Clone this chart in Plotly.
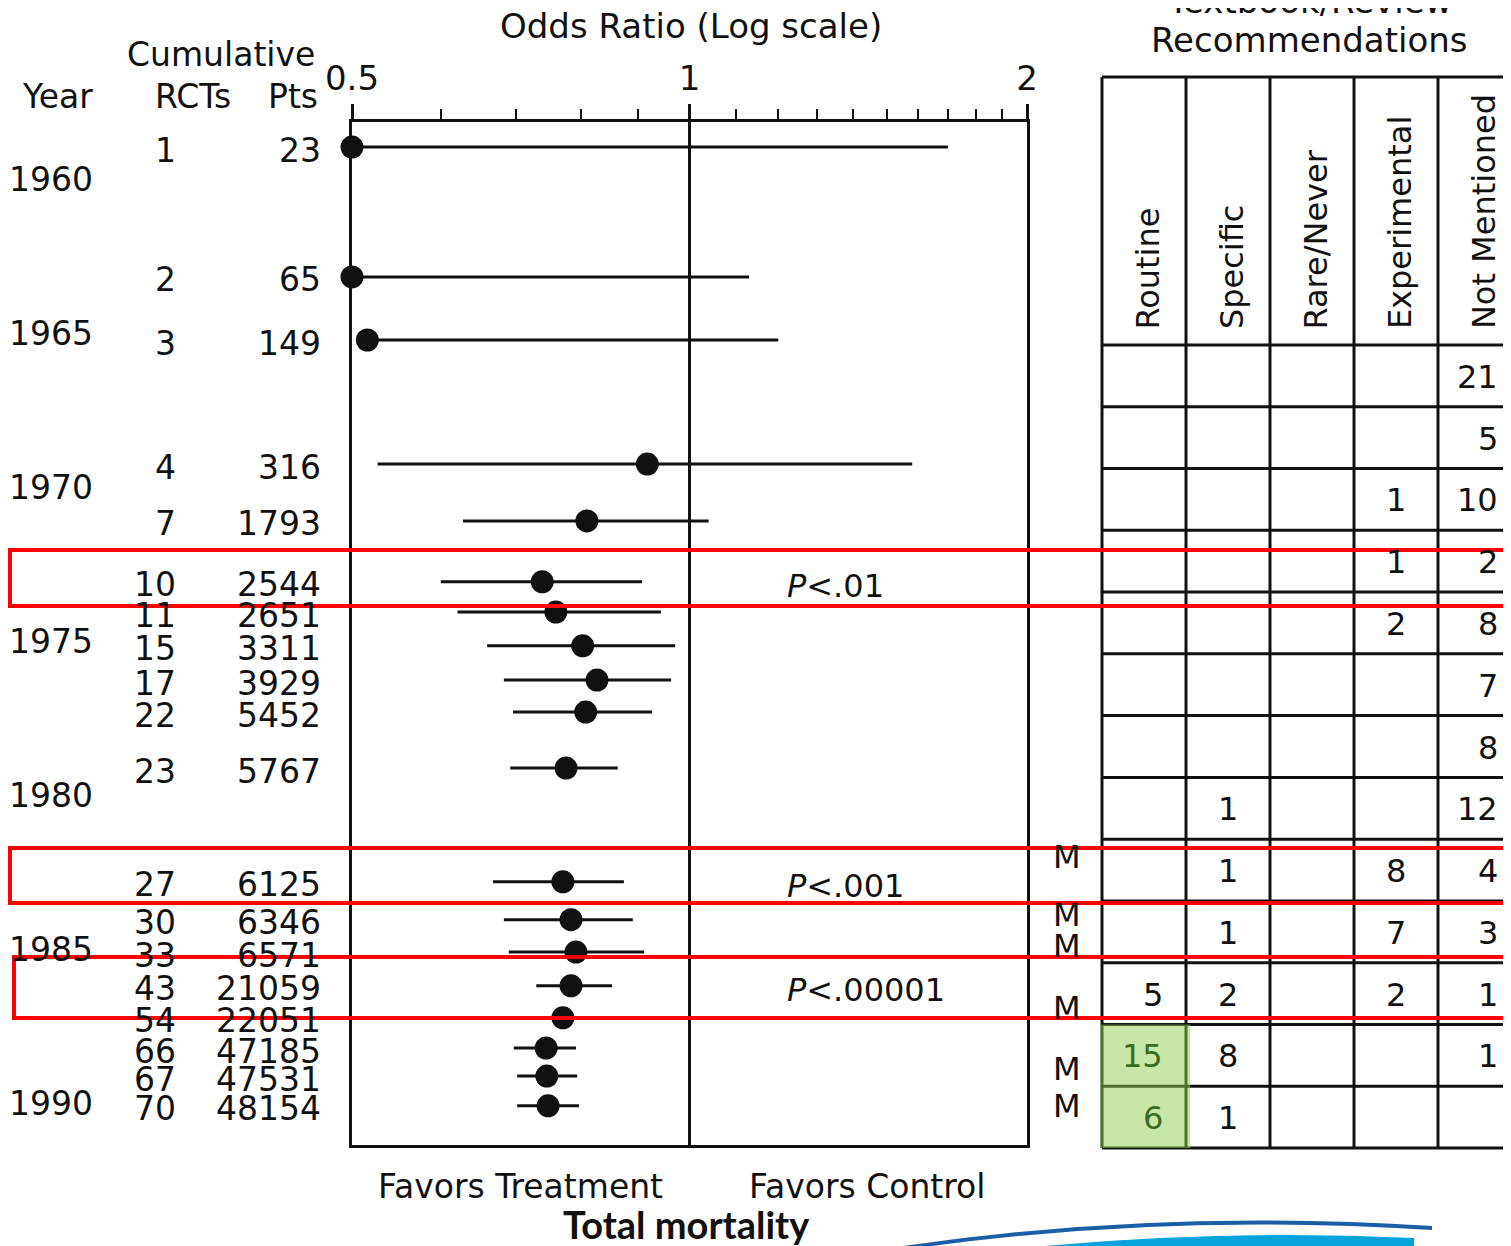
import math
import plotly.graph_objects as go

# the page body adds an 8px margin; the figure is sized and offset to fill the window
W0, H0 = 1511, 1246
OFF = 8
W, H = W0 - OFF, H0 - OFF

# ---------------- data ----------------
year_ticks = [1960, 1965, 1970, 1975, 1980, 1985, 1990]
row_year = [1958.93, 1963.15, 1965.20, 1969.23, 1971.08, 1973.06, 1974.04, 1975.14,
            1976.25, 1977.29, 1979.11, 1982.81, 1984.04, 1985.09, 1986.19, 1987.23,
            1988.21, 1989.12, 1990.09]
cum_rcts = [1, 2, 3, 4, 7, 10, 11, 15, 17, 22, 23, 27, 30, 33, 43, 54, 66, 67, 70]
cum_pts = [23, 65, 149, 316, 1793, 2544, 2651, 3311, 3929, 5452, 5767, 6125, 6346,
           6571, 21059, 22051, 47185, 47531, 48154]
odds_ratio = [0.50, 0.50, 0.516, 0.917, 0.81, 0.739, 0.760, 0.803, 0.827, 0.808, 0.776,
              0.771, 0.784, 0.792, 0.784, 0.771, 0.745, 0.746, 0.748]
ci_low = [0.50, 0.50, 0.507, 0.527, 0.628, 0.60, 0.621, 0.66, 0.683, 0.696, 0.692,
          0.668, 0.683, 0.690, 0.730, 0.719, 0.697, 0.702, 0.702]
ci_high = [1.70, 1.13, 1.20, 1.58, 1.04, 0.907, 0.943, 0.971, 0.963, 0.926, 0.863,
           0.874, 0.890, 0.911, 0.853, 0.837, 0.792, 0.794, 0.797]
p_labels = ["<i>P</i>&lt;.01", "<i>P</i>&lt;.001", "<i>P</i>&lt;.00001"]
p_at_rcts = [10, 27, 43]
meta_years = [1982.0, 1983.9, 1984.9, 1986.9, 1988.9, 1990.1]

rec_columns = ["Routine", "Specific", "Rare/Never", "Experimental", "Not Mentioned"]
routine = [None] * 10 + [5, 15, 6]
specific = [None] * 7 + [1, 1, 1, 2, 8, 1]
rare_never = [None] * 13
experimental = [None, None, 1, 1, 2, None, None, None, 8, 7, 2, None, None]
not_mentioned = [21, 5, 10, 2, 8, 7, 8, 12, 4, 3, 1, 1, None]
highlight_rows = [11, 12]

x_major = [0.5, 1, 2]
x_major_text = ["0.5", "1", "2"]
x_minor = [0.6, 0.7, 0.8, 0.9, 1.1, 1.2, 1.3, 1.4, 1.5, 1.6, 1.7, 1.8, 1.9]

# ---------------- layout helpers (window pixels -> paper) ----------------
def fx(p):
    return (p - OFF) / W

def fy(p):
    return 1 - (p - OFF) / H

FONT = "DejaVu Sans"
BLACK = "#111111"

# main plot geometry (window pixels)
PL, PR, PT, PB = 352, 1027, 122, 1145
Y_REF_PX, PX_PER_YEAR = 180, 30.77
y_bottom = 1960 + (PB - Y_REF_PX) / PX_PER_YEAR
y_top = 1960 + (PT - Y_REF_PX) / PX_PER_YEAR

# table geometry (window pixels)
T_LEFT, COL_W, T_TOP, HDR_BOT, T_BOT = 1102, 84, 77, 345, 1148
N_ROWS = 13
ROW_H = (T_BOT - HDR_BOT) / N_ROWS
HDR = (HDR_BOT - T_TOP) / ROW_H
PAD = 6

fig = go.Figure()

# CI lines
xs, ys = [], []
for lo, hi, yr in zip(ci_low, ci_high, row_year):
    xs += [lo, hi, None]
    ys += [yr, yr, None]
fig.add_trace(go.Scatter(x=xs, y=ys, mode="lines", line=dict(color=BLACK, width=3),
                         hoverinfo="skip", showlegend=False, xaxis="x", yaxis="y"))
# point estimates
fig.add_trace(go.Scatter(x=odds_ratio, y=row_year, mode="markers",
                         marker=dict(color=BLACK, size=23), cliponaxis=False,
                         showlegend=False, xaxis="x", yaxis="y"))

annotations = []

def ann(text, x, y, xref="paper", yref="paper", size=33, xanchor="center",
        yanchor="middle", color=BLACK, family=FONT, **kw):
    d = dict(text=text, x=x, y=y, xref=xref, yref=yref, showarrow=False,
             xanchor=xanchor, yanchor=yanchor,
             font=dict(family=family, size=size, color=color))
    d.update(kw)
    annotations.append(d)

# headers
ann("Odds Ratio (Log scale)", fx(691), fy(26), size=34)
ann("Year", fx(95), fy(96), xanchor="right")
ann("Cumulative", fx(221), fy(54))
ann("RCTs", fx(233), fy(96), xanchor="right")
ann("Pts", fx(320), fy(96), xanchor="right")

# year labels
for yr in year_ticks:
    ann(str(yr), fx(95), yr, yref="y", xanchor="right")

# cumulative columns
for yr, n, p in zip(row_year, cum_rcts, cum_pts):
    ann(str(n), fx(178), yr, yref="y", xanchor="right", yshift=-3)
    ann(str(p), fx(323), yr, yref="y", xanchor="right", yshift=-3)

# P values
for lab, r in zip(p_labels, p_at_rcts):
    yr = row_year[cum_rcts.index(r)]
    ann(lab, fx(785), yr, yref="y", xanchor="left", size=32, yshift=-4)

# meta-analysis markers
for my in meta_years:
    ann("M", fx(1067), my, yref="y", size=32)

# bottom labels
ann("Favors Treatment", fx(520), fy(1186), size=33)
ann("Favors Control", fx(867), fy(1186), size=33)
ann("<b>Total mortality</b>", fx(686), fy(1224), size=38, family="Lato")

# table titles
ann("Textbook/Review", fx(1309), fy(1), size=34)
ann("Recommendations", fx(1309), fy(40), size=34)

# table column headers (rotated)
for j, name in enumerate(rec_columns):
    ann(name, j + 0.5 + 0.05, -0.22, xref="x2", yref="y2", textangle=-90,
        yanchor="bottom", size=32)

# table cells
col_data = [routine, specific, rare_never, experimental, not_mentioned]
col_anchor = [(0.75, "right"), (1.5, "center"), (2.5, "center"), (3.5, "center"),
              (4.74, "right")]
for j, col in enumerate(col_data):
    xa, anc = col_anchor[j]
    for i, v in enumerate(col):
        if v is None:
            continue
        color = "#3f6b1f" if (j == 0 and i in highlight_rows) else BLACK
        ann(str(v), xa, i + 0.5, xref="x2", yref="y2", xanchor=anc, size=32,
            color=color, yshift=-1)

shapes = []
# reference line at OR = 1
shapes.append(dict(type="line", xref="x", yref="paper", x0=1, x1=1,
                   y0=fy(PB), y1=fy(PT), line=dict(color=BLACK, width=3)))

# table grid
for j in range(0, 5):
    shapes.append(dict(type="line", xref="x2", yref="y2", x0=j, x1=j, y0=-HDR, y1=N_ROWS,
                       line=dict(color=BLACK, width=3), layer="above"))
for i in range(0, N_ROWS + 1):
    shapes.append(dict(type="line", xref="x2", yref="y2", x0=0, x1=5.2, y0=i, y1=i,
                       line=dict(color=BLACK, width=3), layer="above"))
shapes.append(dict(type="line", xref="x2", yref="y2", x0=0, x1=5.2, y0=-HDR, y1=-HDR,
                   line=dict(color=BLACK, width=3), layer="above"))
# green highlight
shapes.append(dict(type="rect", xref="x2", yref="y2", x0=-0.02, x1=1.05,
                   y0=min(highlight_rows), y1=max(highlight_rows) + 1,
                   fillcolor="rgba(146,208,80,0.5)", line=dict(width=0), layer="above"))

# red highlight boxes
for (x0, t, b) in [(10, 550, 606), (10, 848, 903), (14, 957, 1018)]:
    shapes.append(dict(type="rect", xref="paper", yref="paper", x0=fx(x0), x1=fx(1530),
                       y0=fy(b), y1=fy(t), line=dict(color="#ff0000", width=4),
                       fillcolor="rgba(0,0,0,0)", layer="above"))

# decorative swoosh (bottom right)
def P(x, y):
    return f"{fx(x):.5f},{fy(y):.5f}"

shapes.append(dict(type="path", xref="paper", yref="paper",
                   path=f"M{P(985,1252)} Q{P(1200,1228)} {P(1414,1238)} L{P(1414,1252)} Z",
                   fillcolor="#06a3dd", line=dict(width=0), layer="above"))
shapes.append(dict(type="path", xref="paper", yref="paper",
                   path=f"M{P(890,1250)} Q{P(1150,1210)} {P(1432,1228)}",
                   line=dict(color="#1b5ea6", width=4), layer="above"))
shapes.append(dict(type="path", xref="paper", yref="paper",
                   path=f"M{P(1502,1252)} Q{P(1506,1241)} {P(1514,1238)} L{P(1514,1252)} Z",
                   fillcolor="#06a3dd", line=dict(width=0), layer="above"))

fig.update_layout(
    width=W, height=H,
    margin=dict(l=0, r=0, t=0, b=0, pad=0, autoexpand=False),
    paper_bgcolor="white", plot_bgcolor="rgba(0,0,0,0)",
    showlegend=False,
    xaxis=dict(type="log", range=[math.log10(0.5), math.log10(2)],
               domain=[fx(PL), fx(PR)], side="top", anchor="y", automargin=False,
               tickmode="array", tickvals=x_major, ticktext=x_major_text,
               ticks="outside", ticklen=15, tickwidth=3, tickcolor=BLACK,
               showline=True, linewidth=3, linecolor=BLACK, mirror=True,
               showgrid=False, zeroline=False,
               tickfont=dict(family=FONT, size=34, color=BLACK),
               minor=dict(tickmode="array", tickvals=x_minor, ticks="outside",
                          ticklen=10, tickwidth=2, tickcolor=BLACK, showgrid=False)),
    yaxis=dict(range=[y_bottom, y_top], domain=[fy(PB), fy(PT)], anchor="x",
               automargin=False,
               showline=True, linewidth=3, linecolor=BLACK, mirror=True,
               showticklabels=False, ticks="", showgrid=False, zeroline=False),
    xaxis2=dict(domain=[fx(T_LEFT - PAD), 1], range=[-PAD / COL_W, (W0 - T_LEFT) / COL_W],
                anchor="y2", visible=False, automargin=False),
    yaxis2=dict(domain=[fy(T_BOT + PAD), fy(T_TOP - PAD)],
                range=[N_ROWS + PAD / ROW_H, -HDR - PAD / ROW_H], anchor="x2",
                visible=False, automargin=False),
    annotations=annotations,
    shapes=shapes,
)

fig.write_html("out.html")
